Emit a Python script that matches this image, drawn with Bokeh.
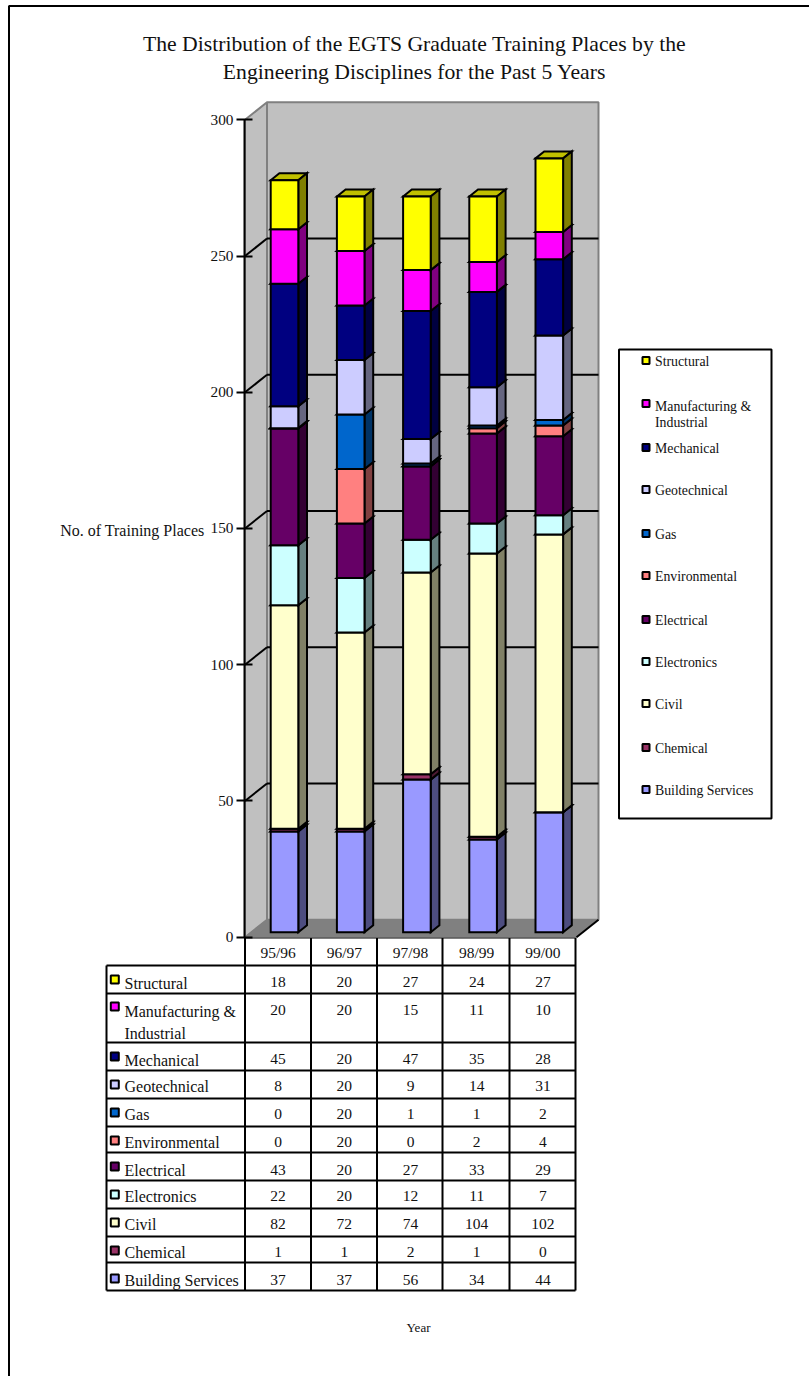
from bokeh.plotting import figure
from bokeh.models import FixedTicker, LinearAxis
from bokeh.core.properties import value
from bokeh.embed import file_html
from bokeh.resources import INLINE

years = ["95/96", "96/97", "97/98", "98/99", "99/00"]
series_names = ["Building Services", "Chemical", "Civil", "Electronics", "Electrical",
                "Environmental", "Gas", "Geotechnical", "Mechanical",
                "Manufacturing & Industrial", "Structural"]
building = [37, 37, 56, 34, 44]
chemical = [1, 1, 2, 1, 0]
civil = [82, 72, 74, 104, 102]
electronics = [22, 20, 12, 11, 7]
electrical = [43, 20, 27, 33, 29]
environmental = [0, 20, 0, 2, 4]
gas = [0, 20, 1, 1, 2]
geotechnical = [8, 20, 9, 14, 31]
mechanical = [45, 20, 47, 35, 28]
manufacturing = [20, 20, 15, 11, 10]
structural = [18, 20, 27, 24, 27]
series_values = [building, chemical, civil, electronics, electrical, environmental,
                 gas, geotechnical, mechanical, manufacturing, structural]
front_colors = ["#9999FF", "#993366", "#FFFFCC", "#CCFFFF", "#660066", "#FF8080",
                "#0066CC", "#CCCCFF", "#000080", "#FF00FF", "#FFFF00"]
side_colors = ["#4D4D80", "#4D1A33", "#808066", "#668080", "#330033", "#804040",
               "#003366", "#666680", "#000040", "#800080", "#808000"]
top_colors = ["#7373BF", "#73264D", "#BFBF99", "#99BFBF", "#4D004D", "#BF6060",
              "#004D99", "#9999BF", "#000060", "#BF00BF", "#C0C000"]
y_ticks = [0, 50, 100, 150, 200, 250, 300]

SERIF = "Liberation Serif"
W, H = 809, 1376
COL0, COLW = 277.6, 66.2            # page x of the first category, category pitch
Y0, PXU = 936.7, 2.7247             # page y of value 0, pixels per value unit
BLACK = 2
GRAY = "#808080"
INK = "#111111"


def X(px):
    return (px - COL0) / COLW


def Y(py):
    return (Y0 - py) / PXU


# back sheet: everything that lies left of the axis, sharing the chart's scales
bg = figure(width=W, height=H, output_backend="svg", toolbar_location=None,
            x_range=(X(0.0), X(809.0)), y_range=(Y(1376.0), Y(0.0)),
            x_axis_location=None, y_axis_location=None,
            min_border_left=0, min_border_right=0, min_border_top=0, min_border_bottom=0,
            outline_line_color=None, background_fill_color="white", border_fill_color="white")
bg.grid.visible = False

# front sheet: the chart with its real value axis
p = figure(width=W, height=H, output_backend="svg", toolbar_location=None,
           x_range=(X(244.0), X(809.0)), y_range=(Y(1376.0), Y(0.0)),
           x_axis_location=None, y_axis_location=None,
           min_border_left=244, min_border_right=0, min_border_top=0, min_border_bottom=0,
           outline_line_color=None, background_fill_color=None, border_fill_color=None)
p.grid.visible = False
p.styles = {"position": "absolute", "left": "0px", "top": "0px"}
bg.styles = {"position": "absolute", "left": "0px", "top": "0px"}

axis = LinearAxis(ticker=FixedTicker(ticks=y_ticks), bounds=(0, 300),
                  axis_line_color="black", axis_line_width=BLACK,
                  major_tick_line_color="black", major_tick_line_width=BLACK,
                  major_tick_in=8, major_tick_out=8, minor_tick_line_color=None,
                  major_label_standoff=3, major_label_text_font=SERIF,
                  major_label_text_font_size="15.3px", major_label_text_color=INK)
p.add_layout(axis, "left")

WALL_X, WALL_Y = 22 / COLW, 17.5 / PXU
x_front_l, x_front_r = X(244.5), X(576.0)

# walls and floor of the 3D box
p.patch([x_front_l, x_front_l + WALL_X, x_front_l + WALL_X, x_front_l],
        [0, WALL_Y, 300 + WALL_Y, 300], fill_color="#C0C0C0", line_color=GRAY, line_width=2)
p.patch([x_front_l + WALL_X, x_front_r + WALL_X, x_front_r + WALL_X, x_front_l + WALL_X],
        [WALL_Y, WALL_Y, 300 + WALL_Y, 300 + WALL_Y], fill_color="#C0C0C0", line_color=GRAY, line_width=2)
p.patch([x_front_l, x_front_l + WALL_X, x_front_r + WALL_X, x_front_r],
        [0, WALL_Y, WALL_Y, 0], fill_color=GRAY, line_color=GRAY, line_width=1)
p.line([x_front_r, x_front_r + WALL_X], [0, WALL_Y], line_color="black", line_width=BLACK)

# gridlines
inner = [t for t in y_ticks if 0 < t < 300]
p.segment([x_front_l] * len(inner), inner, [x_front_l + WALL_X] * len(inner), [t + WALL_Y for t in inner],
          line_color="black", line_width=BLACK)
p.segment([x_front_l + WALL_X] * len(inner), [t + WALL_Y for t in inner],
          [x_front_r + WALL_X] * len(inner), [t + WALL_Y for t in inner],
          line_color="black", line_width=BLACK)

# stacked 3D bars
BAR_HALF = 13.8 / COLW
BAR_SHIFT = 6.4 / COLW
BASE = 5.0 / PXU
DX, DY = 8.7 / COLW, 7.0 / PXU
cum = [BASE] * len(years)
for s, vals in enumerate(series_values):
    for i, v in enumerate(vals):
        xc = i + BAR_SHIFT
        l, r = xc - BAR_HALF, xc + BAR_HALF
        b, t = cum[i], cum[i] + v
        p.patch([l, l + DX, r + DX, r], [t, t + DY, t + DY, t],
                fill_color=top_colors[s], line_color="black", line_width=BLACK, line_join="miter")
        p.patch([r, r + DX, r + DX, r], [b, b + DY, t + DY, t],
                fill_color=side_colors[s], line_color="black", line_width=BLACK, line_join="miter")
        p.quad(left=l, right=r, bottom=b, top=t, fill_color=front_colors[s],
               line_color="black", line_width=BLACK, line_join="miter")
        cum[i] = t

# data table
col_edges = [106.0, 244.5, 310.5, 376.5, 442.0, 509.0, 575.0]
row_edges = [965.0, 993.0, 1042.0, 1070.0, 1098.0, 1126.0, 1152.0, 1180.0, 1208.0, 1236.0, 1262.0, 1290.0]
header_top = 937.0
bg.segment([X(e) for e in col_edges[1:]], [Y(header_top)] * 6, [X(e) for e in col_edges[1:]], [Y(row_edges[-1])] * 6,
           line_color="black", line_width=BLACK)
bg.segment([X(col_edges[0])], [Y(row_edges[0])], [X(col_edges[0])], [Y(row_edges[-1])],
           line_color="black", line_width=BLACK)
bg.segment([X(col_edges[1])], [Y(header_top)], [X(col_edges[-1])], [Y(header_top)],
           line_color="black", line_width=BLACK)
bg.segment([X(col_edges[0])] * len(row_edges), [Y(r) for r in row_edges],
           [X(col_edges[-1])] * len(row_edges), [Y(r) for r in row_edges],
           line_color="black", line_width=BLACK)

text_kw = dict(text_font=value(SERIF), text_font_size="15.5px", text_color=INK,
               text_align="center", text_baseline="middle")
bg.text(x=list(range(5)), y=[Y(952.0)] * 5, text=years, **text_kw)
top_down = list(range(len(series_names) - 1, -1, -1))
row_text_y = [981.5, 1009.5, 1058.5, 1085.5, 1113.5, 1141.5, 1169.0, 1195.5, 1223.5, 1251.0, 1279.0]
for row, s in enumerate(top_down):
    bg.text(x=list(range(5)), y=[Y(row_text_y[row])] * 5, text=[str(v) for v in series_values[s]], **text_kw)

label_lines = [["Structural"], ["Manufacturing &", "Industrial"], ["Mechanical"], ["Geotechnical"],
               ["Gas"], ["Environmental"], ["Electrical"], ["Electronics"], ["Civil"], ["Chemical"],
               ["Building Services"]]
marker_y = [979.0, 1006.0, 1056.0, 1084.0, 1112.0, 1140.0, 1166.0, 1194.0, 1222.0, 1250.0, 1278.0]
label_y = [982.5, 1010.5, 1059.5, 1085.5, 1113.5, 1141.5, 1169.5, 1195.5, 1223.5, 1251.5, 1279.5]
left_text = dict(text_font=value(SERIF), text_color=INK, text_align="left", text_baseline="middle")
for row, s in enumerate(top_down):
    bg.scatter(x=[X(114.3)], y=[Y(marker_y[row])], marker="square", size=8, fill_color=front_colors[s],
               line_color="black", line_width=2)
    for k, line in enumerate(label_lines[row]):
        bg.text(x=[X(124.0)], y=[Y(label_y[row] + 22 * k)], text=[line], text_font_size="16px", **left_text)

# legend box
p.quad(left=X(618.5), right=X(771.0), top=Y(349.0), bottom=Y(818.0), fill_color="white",
       line_color="black", line_width=2)
legend_y = [360.0, 403.0, 447.0, 489.0, 533.0, 575.0, 619.0, 661.0, 703.0, 747.0, 789.0]
legend_text_y = [361.0, 405.5, 447.5, 489.5, 533.5, 575.5, 619.5, 661.5, 703.5, 747.5, 789.5]
for row, s in enumerate(top_down):
    p.scatter(x=[X(645.5)], y=[Y(legend_y[row])], marker="square", size=7, fill_color=front_colors[s],
              line_color="black", line_width=2)
    for k, line in enumerate(label_lines[row]):
        p.text(x=[X(654.5)], y=[Y(legend_text_y[row] + 16.5 * k)], text=[line], text_font_size="13.8px", **left_text)

# titles and axis names
center_text = dict(text_font=value(SERIF), text_color=INK, text_align="center", text_baseline="middle")
for txt, py in [("The Distribution of the EGTS Graduate Training Places by the", 43.0),
                ("Engineering Disciplines for the Past 5 Years", 71.0)]:
    bg.text(x=[X(414.0)], y=[Y(py)], text=[txt], text_font_size="21.7px", **center_text)
bg.text(x=[X(204.0)], y=[Y(529.5)], text=["No. of Training Places"], text_font=value(SERIF), text_font_size="16px",
        text_color=INK, text_align="right", text_baseline="middle")
bg.text(x=[X(418.0)], y=[Y(1327.0)], text=["Year"], text_font_size="13px", **center_text)

# page frame
bg.line([X(809.0), X(8.5), X(8.5)], [Y(5.5), Y(5.5), Y(1376.0)], line_color="black", line_width=2)

open("out.html", "w").write(file_html([bg, p], INLINE))
